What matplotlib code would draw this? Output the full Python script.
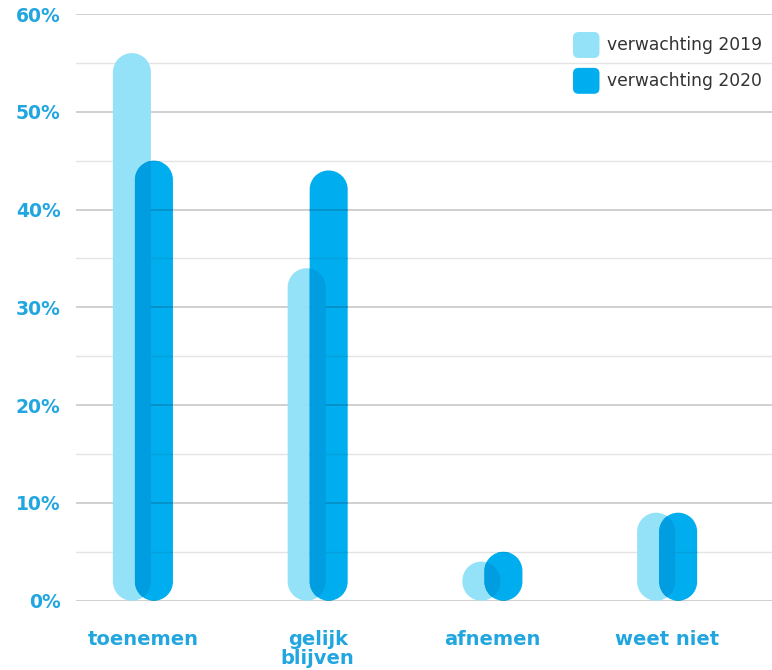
import matplotlib
matplotlib.use('Agg')
import matplotlib.pyplot as plt
import numpy as np
from matplotlib.patches import FancyBboxPatch, PathPatch
from matplotlib.path import Path
from matplotlib.legend_handler import HandlerPatch

categories = ['toenemen', 'gelijk\nblijven', 'afnemen', 'weet niet']
verwachting_2019 = [56, 34, 4, 9]
verwachting_2020 = [45, 44, 5, 9]
series_labels = ['verwachting 2019', 'verwachting 2020']
yticks = [0, 10, 20, 30, 40, 50, 60]

LIGHT = '#94E2F8'
BLUE = '#00AEEF'
DARK = '#009DE0'
LABEL = '#22A6E0'

W, H, DPI = 772, 670, 100
fig = plt.figure(figsize=(W / DPI, H / DPI), dpi=DPI)
ax = fig.add_axes([76 / W, 1 - 600.7 / H, 1 - 76 / W, (600.7 - 14) / H])

x = np.arange(len(categories))
ax.set_xlim(-0.383, 3.60)
ax.set_ylim(0, 60)

# grid: darker lines every 10%, light ones in between
minor = np.arange(5, 60, 10)
ax.set_yticks(yticks)
ax.set_yticks(minor, minor=True)
ax.grid(axis='y', which='major', color='#c4c4c4', lw=1.1, zorder=0)
ax.grid(axis='y', which='minor', color='#e4e4e4', lw=1.0, zorder=0)
ax.set_axisbelow(True)
for s in ax.spines.values():
    s.set_visible(False)

ax.set_yticklabels([f'{t}%' for t in yticks])
ax.set_xticks(x)
ax.set_xticklabels(categories, linespacing=1.0)
ax.tick_params(axis='both', which='both', length=0)
ax.tick_params(axis='y', pad=11, labelsize=13.5, labelcolor=LABEL)
ax.tick_params(axis='x', pad=21, labelsize=14, labelcolor=LABEL)
for lab in ax.get_xticklabels() + ax.get_yticklabels():
    lab.set_fontweight('bold')

width = 0.2175
offset = 0.063

# x/y pixel ratio, so the round ends come out as half circles
p0 = ax.transData.transform((0, 0))
p1 = ax.transData.transform((1, 1))
aspect = (p1[0] - p0[0]) / (p1[1] - p0[1])

top_arc = Path.arc(0, 180)
bot_arc = Path.arc(180, 360)


def capsule_path(x0, w, h):
    r = w / 2
    ry = r * aspect
    cx = x0 + r
    top = top_arc.vertices * [r, ry] + [cx, h - ry]
    bot = bot_arc.vertices * [r, ry] + [cx, ry]
    verts = np.vstack([top, bot, top[:1]])
    codes = np.concatenate([top_arc.codes, bot_arc.codes, [Path.CLOSEPOLY]])
    codes[len(top_arc.codes)] = Path.LINETO
    return Path(verts, codes)


def capsules(bars, color, z):
    out = []
    for r in bars:
        r.set_visible(False)
        pp = PathPatch(capsule_path(r.get_x(), r.get_width(), r.get_height()),
                       fc=color, ec='none', zorder=z)
        ax.add_patch(pp)
        out.append(pp)
    return out


b19 = ax.bar(x - offset, verwachting_2019, width, color=LIGHT)
b20 = ax.bar(x + offset, verwachting_2020, width, color=BLUE)
caps19 = capsules(b19, LIGHT, 2)
caps20 = capsules(b20, BLUE, 3)

# grid shows faintly through the 2020 bars
for c20 in caps20:
    for t in yticks:
        ax.axhline(t, color='#0789c0', lw=1.1, zorder=3.5).set_clip_path(c20)
    for t in minor:
        ax.axhline(t, color='#05a0dc', lw=1.0, zorder=3.5).set_clip_path(c20)

# where the two bars overlap the colour gets deeper
for c19, r in zip(caps19, b20):
    ov = PathPatch(capsule_path(r.get_x(), r.get_width(), r.get_height()),
                   fc=DARK, ec='none', zorder=4)
    ax.add_patch(ov)
    ov.set_clip_path(c19)


def round_square(legend, orig_handle, xdescent, ydescent, width, height, fontsize):
    return FancyBboxPatch((-xdescent, -ydescent), width, height,
                          boxstyle='round,pad=0,rounding_size=4')


handles = [plt.Rectangle((0, 0), 1, 1, fc=LIGHT, ec='none'),
           plt.Rectangle((0, 0), 1, 1, fc=BLUE, ec='none')]
leg = ax.legend(handles, series_labels, loc='upper left',
                bbox_to_anchor=(573 / W, 1 - 32 / H), bbox_transform=fig.transFigure,
                frameon=False, fontsize=12.3, labelcolor='#333333',
                handlelength=1.55, handleheight=1.96, handletextpad=0.45,
                labelspacing=0.58, borderpad=0, borderaxespad=0,
                handler_map={plt.Rectangle: HandlerPatch(patch_func=round_square)})
leg.set_zorder(6)

fig.savefig('out.png', dpi=DPI, facecolor='white')
